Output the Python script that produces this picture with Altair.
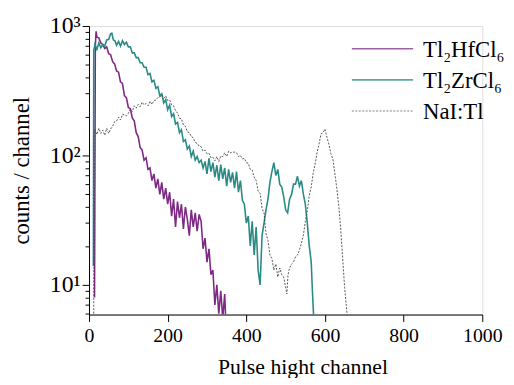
import altair as alt
import pandas as pd

# ---- data ----
hf_ch = [14, 16, 18, 20, 25, 30, 35, 40, 45, 50, 55, 60, 65, 70, 75, 80, 85, 90, 95, 100,
         105, 110, 115, 120, 125, 130, 135, 140, 145, 150, 155, 160, 165, 170, 175, 180,
         185, 190, 195, 200, 205, 210, 215, 220, 225, 230, 235, 240, 245, 250, 255, 260,
         265, 270, 275, 280, 285, 290, 295, 300, 305, 310, 315, 320, 325, 330, 335, 340, 345, 348]
hf_val = [8, 700, 910, 820, 810, 740, 720, 670, 690, 610, 600, 530, 510, 450, 440, 370, 360, 290, 280, 235,
          230, 195, 185, 150, 140, 115, 110, 92, 96, 78, 80, 64, 72, 56, 66, 50,
          62, 46, 56, 42, 52, 34, 46, 28, 44, 33, 42, 27, 40, 32, 24, 38,
          28, 36, 26, 35, 31, 19, 23, 15, 19, 12, 13, 7, 10, 6, 9, 5.5, 8.5, 5]

zr_ch = [11, 12, 15, 20, 25, 30, 35, 40, 45, 50, 55, 58, 62, 66, 70, 75, 80, 85, 90, 95,
         100, 105, 110, 115, 120, 125, 130, 135, 140, 145, 150, 155, 160, 165, 170, 175, 180,
         185, 190, 195, 200, 205, 210, 215, 220, 225, 230, 235, 240, 245, 250, 255, 260, 265,
         270, 275, 280, 285, 290, 295, 300, 305, 310, 315, 320, 325, 330, 335, 340, 345, 350,
         355, 360, 365, 370, 375, 380, 385, 390, 395, 400, 405, 410, 415, 420, 425, 430, 435,
         440, 445, 450, 455, 460, 465, 470, 475, 480, 485, 490, 495, 500, 505, 510, 515, 520,
         525, 530, 535, 540, 545, 550, 555, 560, 565, 568, 572]
zr_val = [14, 650, 720, 660, 740, 680, 720, 700, 780, 790, 870, 880, 780, 770, 710, 760, 700, 770, 720, 750,
          690, 690, 620, 620, 570, 570, 520, 520, 480, 480, 420, 430, 370, 380, 330, 340, 290,
          300, 255, 270, 225, 245, 200, 210, 175, 180, 150, 158, 128, 132, 112, 118, 98, 108,
          92, 98, 88, 92, 80, 90, 72, 95, 75, 88, 68, 84, 64, 85, 66, 80, 58, 78,
          62, 74, 56, 75, 52, 64, 45, 42, 30, 34, 20, 31, 17, 28, 13, 10,
          24, 30, 38, 46, 62, 75, 88, 70, 78, 60, 57, 48, 38, 36, 46, 50, 60,
          60, 69, 58, 64, 50, 42, 30, 20, 15, 9, 5]

nai_ch = [12, 13, 15, 20, 25, 30, 35, 40, 45, 50, 55, 60, 65, 70, 75, 80, 85, 90, 95, 100,
          105, 110, 115, 120, 125, 130, 135, 140, 145, 150, 155, 160, 165, 170, 175, 180,
          185, 190, 195, 200, 205, 210, 215, 220, 225, 230, 235, 240, 245, 250, 255, 260,
          265, 270, 275, 280, 285, 290, 295, 300, 305, 310, 315, 320, 325, 330, 335, 340,
          345, 350, 355, 360, 365, 370, 375, 380, 385, 390, 395, 400, 405, 410, 415, 420,
          425, 430, 435, 440, 445, 450, 455, 460, 465, 470, 475, 480, 485, 490, 495, 500,
          503, 506, 510, 515, 520, 525, 530, 535, 540, 545, 550, 555, 560, 565, 570, 575,
          580, 585, 590, 595, 600, 605, 610, 615, 620, 625, 630, 635, 640, 645, 650, 655, 658]
nai_val = [6, 150, 158, 145, 162, 148, 157, 143, 162, 148, 160, 168, 182, 184, 198, 188, 208, 206, 202, 212,
           228, 218, 242, 232, 248, 238, 258, 246, 252, 242, 262, 248, 266, 268, 280, 282,
           294, 276, 288, 266, 268, 246, 242, 222, 212, 194, 192, 172, 168, 152, 150, 140,
           137, 126, 124, 118, 117, 108, 110, 103, 104, 96, 97, 91, 98, 90, 99, 98,
           105, 98, 108, 105, 106, 106, 105, 98, 100, 94, 95, 88, 87, 78, 77, 68,
           64, 53, 51, 39, 36, 25, 22, 17, 16, 13, 14.5, 11.5, 13.5, 12, 11.5, 9.5,
           8.5, 12, 13.5, 14.5, 15, 16.5, 17, 18.5, 21, 24, 31, 37, 49, 57, 73, 86,
           106, 123, 147, 150, 160, 138, 122, 103, 94, 73, 56, 41, 27, 16, 9.5, 6.5, 5]

x_ticks = [0, 100, 200, 300, 400, 500, 600, 700, 800, 900, 1000]
y_ticks = [6, 7, 8, 9, 10, 20, 30, 40, 50, 60, 70, 80, 90,
           100, 200, 300, 400, 500, 600, 700, 800, 900, 1000]
legend_labels = ["Tl\u2082HfCl\u2086", "Tl\u2082ZrCl\u2086", "NaI:Tl"]

df_hf = pd.DataFrame({"ch": hf_ch, "v": hf_val})
df_zr = pd.DataFrame({"ch": zr_ch, "v": zr_val})
df_nai = pd.DataFrame({"ch": nai_ch, "v": nai_val})

FONT = "Liberation Serif"
PURPLE = "#7e2a85"
TEAL = "#2a8a86"
GREY = "#444444"

xscale = alt.Scale(domain=[0, 1000], nice=False, zero=False)
yscale = alt.Scale(type="log", domain=[5.9, 1000], nice=False)

xaxis = alt.Axis(
    values=x_ticks, grid=False, domainColor="black", tickColor="black",
    labelExpr="datum.value % 200 == 0 ? datum.value : ''",
    tickSize={"condition": {"test": "datum.value % 200 == 0", "value": 7}, "value": 4},
    labelFont=FONT, labelFontSize=20, labelColor="black", labelPadding=4,
    labelOverlap=False, labelFlush=False,
    title="Pulse hight channel", titleFont=FONT, titleFontSize=22, titleFontWeight="normal",
    titleColor="black", titleX=216, titleY=53, titleAlign="center", titleBaseline="middle",
)
yaxis = alt.Axis(
    values=y_ticks, grid=False, domainColor="black", tickColor="black",
    labelExpr="datum.value == 1000 ? '10\u00b3' : datum.value == 100 ? '10\u00b2' : datum.value == 10 ? '10\u00b9' : ''",
    tickSize={"condition": {"test": "datum.value == 10 || datum.value == 100 || datum.value == 1000", "value": 7}, "value": 4},
    labelFont=FONT, labelFontSize=24, labelColor="black", labelPadding=2,
    labelOverlap=False, labelFlush=False, labelBaseline="middle",
    title="counts / channel", titleFont=FONT, titleFontSize=23, titleFontWeight="normal",
    titleColor="black", titleX=-68, titleY=146, titleAngle=-90, titleAlign="center",
    titleBaseline="middle",
)

hf = alt.Chart(df_hf).mark_line(color=PURPLE, strokeWidth=1.6, clip=True).encode(
    x=alt.X("ch:Q", scale=xscale, axis=xaxis),
    y=alt.Y("v:Q", scale=yscale, axis=yaxis),
)
zr = alt.Chart(df_zr).mark_line(color=TEAL, strokeWidth=1.6, clip=True).encode(
    x=alt.X("ch:Q"), y=alt.Y("v:Q"),
)
nai = alt.Chart(df_nai).mark_line(color=GREY, strokeWidth=0.9, strokeDash=[2, 1.5], clip=True).encode(
    x=alt.X("ch:Q"), y=alt.Y("v:Q"),
)

one = alt.Data(values=[{"k": 0}])
leg_layers = []
leg_styles = [(PURPLE, 1.6, None), (TEAL, 1.6, None), (GREY, 0.9, [2, 1.5])]
for i, (lab, (col, w, dash)) in enumerate(zip(legend_labels, leg_styles)):
    ly = 23 + i * 31.5
    mk = dict(color=col, strokeWidth=w, opacity=0.75)
    if dash:
        mk["strokeDash"] = dash
    leg_layers.append(
        alt.Chart(one).mark_rule(**mk).encode(
            x=alt.value(266), x2=alt.value(328), y=alt.value(ly)
        )
    )
    leg_layers.append(
        alt.Chart(one).mark_text(font=FONT, fontSize=23, align="left", baseline="alphabetic",
                                 color="black").encode(
            x=alt.value(338), y=alt.value(ly + 8), text=alt.value(lab)
        )
    )

chart = alt.layer(hf, zr, nai, *leg_layers).properties(
    width=398, height=292,
    autosize=alt.AutoSizeParams(type="none"),
    padding={"left": 82, "top": 16, "right": 24, "bottom": 62},
).configure_view(stroke=None).configure(background="white")

chart.save("out.html", embed_options={"renderer": "svg", "actions": False})
